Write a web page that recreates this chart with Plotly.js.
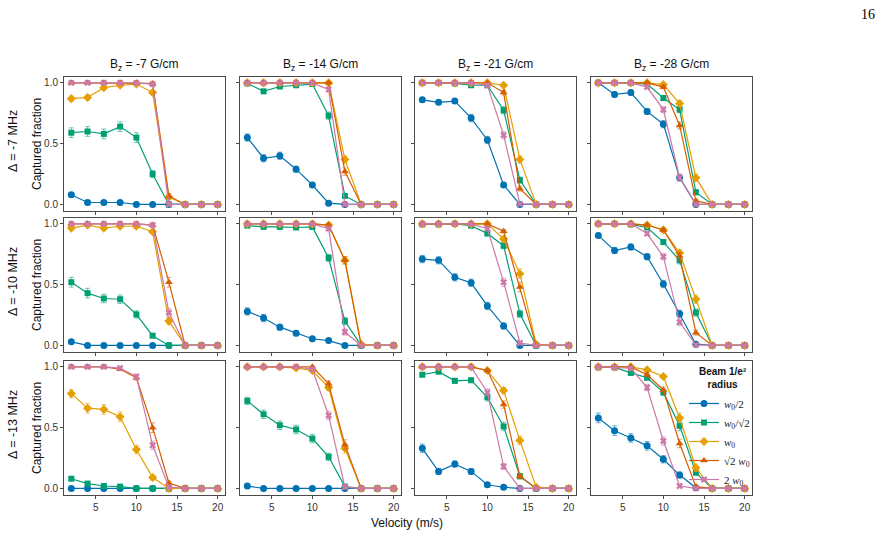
<!DOCTYPE html>
<html>
<head>
<meta charset="utf-8">
<script src="https://cdn.plot.ly/plotly-3.0.1.min.js"></script>
<style>html,body{margin:0;padding:0;background:#fff;}#chart{width:891px;height:536px;}</style>
</head>
<body>
<div id="chart"></div>
<script>
// ---- data ----
const velocity = [2, 4, 6, 8, 10, 12, 14, 16, 18, 20];
const xTickVals = [5, 10, 15, 20];
const xTickText = ['5', '10', '15', '20'];
const yTickVals = [0, 0.5, 1];
const yTickText = ['0.0', '0.5', '1.0'];
const bzLabels = ['B<sub>z</sub> = -7 G/cm', 'B<sub>z</sub> = -14 G/cm', 'B<sub>z</sub> = -21 G/cm', 'B<sub>z</sub> = -28 G/cm'];
const detuningLabels = ['Δ = -7 MHz', 'Δ = -10 MHz', 'Δ = -13 MHz'];
const legendTitle = '<b>Beam 1/e²</b><br><b>radius</b>';
const seriesNames = ['<i>w</i><sub>0</sub>/2', '<i>w</i><sub>0</sub>/√2', '<i>w</i><sub>0</sub>', '√2 <i>w</i><sub>0</sub>', '2 <i>w</i><sub>0</sub>'];
const seriesColors = ['#0072B2', '#009E73', '#E69F00', '#D55E00', '#CC79A7'];
const seriesErrColors = ['rgba(0,114,178,0.55)', 'rgba(0,158,115,0.55)', 'rgba(230,159,0,0.55)', 'rgba(213,94,0,0.55)', 'rgba(204,121,167,0.55)'];
const seriesSymbols = ['circle', 'square', 'diamond', 'triangle-up', 'x'];
const seriesSizes = [7, 6, 7, 7, 6];

// captured fraction per panel: rows = series (w0/2, w0/√2, w0, √2 w0, 2 w0)
const d7_b7 = [
  [0.08, 0.016, 0.016, 0.016, 0, 0, 0, 0, 0, 0],
  [0.59, 0.60, 0.58, 0.64, 0.55, 0.25, 0, 0, 0, 0],
  [0.87, 0.88, 0.96, 0.98, 0.99, 0.92, 0.06, 0, 0, 0],
  [1, 1, 1, 1, 1, 0.995, 0.07, 0, 0, 0],
  [1, 1, 1, 1, 1, 0.99, 0, 0, 0, 0]];
const d7_b14 = [
  [0.55, 0.38, 0.40, 0.29, 0.16, 0.01, 0, 0, 0, 0],
  [0.995, 0.93, 0.97, 0.98, 0.99, 0.73, 0.07, 0, 0, 0],
  [1, 1, 1, 1, 1, 1, 0.37, 0, 0, 0],
  [1, 1, 1, 1, 1, 1, 0.27, 0, 0, 0],
  [1, 1, 1, 1, 1, 0.945, 0, 0, 0, 0]];
const d7_b21 = [
  [0.86, 0.84, 0.85, 0.71, 0.53, 0.16, 0, 0, 0, 0],
  [1, 1, 0.995, 0.98, 0.98, 0.775, 0.20, 0, 0, 0],
  [1, 1, 1, 1, 1, 0.98, 0.37, 0, 0, 0],
  [1, 1, 1, 1, 1, 0.92, 0.13, 0, 0, 0],
  [1, 1, 1, 1, 0.98, 0.57, 0.005, 0, 0, 0]];
const d7_b28 = [
  [1, 0.905, 0.92, 0.765, 0.66, 0.22, 0, 0, 0, 0],
  [1, 1, 1, 0.99, 0.875, 0.78, 0.10, 0, 0, 0],
  [1, 1, 1, 1, 0.985, 0.83, 0.22, 0, 0, 0],
  [1, 1, 1, 1, 0.965, 0.65, 0.03, 0, 0, 0],
  [1, 1, 1, 0.965, 0.78, 0.22, 0, 0, 0, 0]];
const d10_b7 = [
  [0.03, 0, 0, 0, 0, 0, 0, 0, 0, 0],
  [0.52, 0.43, 0.386, 0.38, 0.255, 0.08, 0, 0, 0, 0],
  [0.965, 0.99, 0.965, 0.98, 0.98, 0.935, 0.20, 0, 0, 0],
  [1, 1, 1, 1, 1, 0.99, 0.52, 0, 0, 0],
  [1, 1, 1, 1, 1, 0.99, 0.27, 0, 0, 0]];
const d10_b14 = [
  [0.28, 0.225, 0.15, 0.10, 0.055, 0.04, 0, 0, 0, 0],
  [0.985, 0.975, 0.975, 0.97, 0.975, 0.72, 0.20, 0, 0, 0],
  [1, 1, 1, 1, 1, 0.99, 0.70, 0.01, 0, 0],
  [1, 1, 1, 1, 1, 0.99, 0.70, 0, 0, 0],
  [1, 1, 1, 1, 1, 0.96, 0.11, 0, 0, 0]];
const d10_b21 = [
  [0.71, 0.70, 0.56, 0.515, 0.325, 0.16, 0, 0, 0, 0],
  [0.995, 0.995, 1, 0.985, 0.92, 0.82, 0.26, 0, 0, 0],
  [1, 1, 1, 1, 1, 0.875, 0.59, 0.01, 0, 0],
  [1, 1, 1, 1, 1, 0.94, 0.48, 0, 0, 0],
  [1, 1, 1, 1, 0.96, 0.52, 0.02, 0, 0, 0]];
const d10_b28 = [
  [0.905, 0.78, 0.81, 0.73, 0.505, 0.26, 0.01, 0, 0, 0],
  [1, 1, 0.995, 0.97, 0.85, 0.70, 0.27, 0, 0, 0],
  [1, 1, 1, 0.99, 0.95, 0.76, 0.38, 0, 0, 0],
  [1, 1, 1, 0.99, 0.95, 0.735, 0.105, 0, 0, 0],
  [1, 1, 1, 0.92, 0.73, 0.19, 0.005, 0, 0, 0]];
const d13_b7 = [
  [0, 0, 0, 0, 0, 0, 0, 0, 0, 0],
  [0.08, 0.04, 0.02, 0.015, 0, 0, 0, 0, 0, 0],
  [0.78, 0.66, 0.65, 0.59, 0.32, 0.09, 0, 0, 0, 0],
  [1, 1, 1, 0.98, 0.91, 0.50, 0.045, 0, 0, 0],
  [1, 1, 1, 0.99, 0.92, 0.355, 0.01, 0, 0, 0]];
const d13_b14 = [
  [0.02, 0, 0, 0, 0, 0, 0, 0, 0, 0],
  [0.72, 0.61, 0.52, 0.485, 0.41, 0.26, 0.015, 0, 0, 0],
  [1, 1, 1, 0.99, 0.97, 0.83, 0.33, 0, 0, 0],
  [1, 1, 1, 1, 1, 0.86, 0.36, 0, 0, 0],
  [1, 1, 1, 1, 0.98, 0.60, 0.01, 0, 0, 0]];
const d13_b21 = [
  [0.33, 0.14, 0.20, 0.14, 0.03, 0.01, 0, 0, 0, 0],
  [0.935, 0.96, 0.885, 0.89, 0.75, 0.51, 0.10, 0, 0, 0],
  [1, 1, 1, 1, 0.97, 0.805, 0.395, 0.01, 0, 0],
  [1, 1, 1, 1, 0.97, 0.69, 0.10, 0, 0, 0],
  [1, 1, 1, 1, 0.79, 0.18, 0, 0, 0, 0]];
const d13_b28 = [
  [0.58, 0.475, 0.415, 0.35, 0.24, 0.11, 0.005, 0, 0, 0],
  [0.995, 0.995, 0.95, 0.91, 0.79, 0.515, 0.13, 0, 0, 0],
  [1, 1, 1, 0.975, 0.92, 0.58, 0.17, 0, 0, 0],
  [1, 1, 1, 0.935, 0.81, 0.37, 0.015, 0, 0, 0],
  [1, 0.995, 0.99, 0.83, 0.39, 0.02, 0, 0, 0, 0]];

// error bars per panel
const e7_b7 = [
  [0.015, 0.005, 0.005, 0.005, 0, 0, 0, 0, 0, 0],
  [0.04, 0.04, 0.04, 0.04, 0.04, 0.03, 0, 0, 0, 0],
  [0.02, 0.02, 0.01, 0.01, 0.01, 0.02, 0.02, 0, 0, 0],
  [0.005, 0.005, 0.005, 0.005, 0.005, 0.01, 0.02, 0, 0, 0],
  [0.005, 0.005, 0.005, 0.005, 0.005, 0.01, 0.005, 0, 0, 0]];
const e7_b14 = [
  [0.03, 0.03, 0.03, 0.025, 0.02, 0.005, 0, 0, 0, 0],
  [0.005, 0.015, 0.01, 0.01, 0.005, 0.03, 0.015, 0, 0, 0],
  [0.005, 0.005, 0.005, 0.005, 0.005, 0.005, 0.03, 0, 0, 0],
  [0.005, 0.005, 0.005, 0.005, 0.005, 0.005, 0.03, 0, 0, 0],
  [0.005, 0.005, 0.005, 0.005, 0.005, 0.015, 0.005, 0, 0, 0]];
const e7_b21 = [
  [0.02, 0.02, 0.02, 0.03, 0.03, 0.02, 0, 0, 0, 0],
  [0.005, 0.005, 0.005, 0.01, 0.01, 0.03, 0.025, 0, 0, 0],
  [0.005, 0.005, 0.005, 0.005, 0.005, 0.01, 0.03, 0, 0, 0],
  [0.005, 0.005, 0.005, 0.005, 0.005, 0.02, 0.02, 0, 0, 0],
  [0.005, 0.005, 0.005, 0.005, 0.01, 0.03, 0.005, 0, 0, 0]];
const e7_b28 = [
  [0.01, 0.02, 0.02, 0.025, 0.03, 0.025, 0.005, 0, 0, 0],
  [0.005, 0.005, 0.005, 0.01, 0.02, 0.025, 0.02, 0, 0, 0],
  [0.005, 0.005, 0.005, 0.005, 0.01, 0.025, 0.03, 0, 0, 0],
  [0.005, 0.005, 0.005, 0.005, 0.015, 0.03, 0.01, 0, 0, 0],
  [0.005, 0.005, 0.005, 0.015, 0.025, 0.03, 0.005, 0, 0, 0]];
const e10_b7 = [
  [0.01, 0, 0, 0, 0, 0, 0, 0, 0, 0],
  [0.04, 0.04, 0.035, 0.035, 0.03, 0.015, 0, 0, 0, 0],
  [0.01, 0.005, 0.01, 0.01, 0.01, 0.015, 0.03, 0, 0, 0],
  [0.005, 0.005, 0.005, 0.005, 0.005, 0.01, 0.04, 0, 0, 0],
  [0.005, 0.005, 0.005, 0.005, 0.005, 0.01, 0.035, 0, 0, 0]];
const e10_b14 = [
  [0.03, 0.03, 0.025, 0.02, 0.015, 0.01, 0, 0, 0, 0],
  [0.01, 0.01, 0.01, 0.01, 0.01, 0.03, 0.03, 0, 0, 0],
  [0.005, 0.005, 0.005, 0.005, 0.005, 0.01, 0.03, 0.01, 0, 0],
  [0.005, 0.005, 0.005, 0.005, 0.005, 0.01, 0.03, 0, 0, 0],
  [0.005, 0.005, 0.005, 0.005, 0.005, 0.015, 0.025, 0, 0, 0]];
const e10_b21 = [
  [0.03, 0.03, 0.03, 0.03, 0.03, 0.025, 0, 0, 0, 0],
  [0.005, 0.005, 0.005, 0.01, 0.015, 0.025, 0.03, 0, 0, 0],
  [0.005, 0.005, 0.005, 0.005, 0.005, 0.025, 0.04, 0.01, 0, 0],
  [0.005, 0.005, 0.005, 0.005, 0.005, 0.015, 0.04, 0, 0, 0],
  [0.005, 0.005, 0.005, 0.005, 0.015, 0.035, 0.01, 0, 0, 0]];
const e10_b28 = [
  [0.015, 0.025, 0.025, 0.025, 0.03, 0.03, 0.01, 0, 0, 0],
  [0.005, 0.005, 0.005, 0.01, 0.02, 0.03, 0.03, 0, 0, 0],
  [0.005, 0.005, 0.005, 0.01, 0.015, 0.03, 0.035, 0, 0, 0],
  [0.005, 0.005, 0.005, 0.01, 0.015, 0.03, 0.02, 0, 0, 0],
  [0.005, 0.005, 0.005, 0.015, 0.025, 0.025, 0.01, 0, 0, 0]];
const e13_b7 = [
  [0, 0, 0, 0, 0, 0, 0, 0, 0, 0],
  [0.015, 0.01, 0.01, 0.01, 0, 0, 0, 0, 0, 0],
  [0.035, 0.04, 0.04, 0.04, 0.035, 0.02, 0, 0, 0, 0],
  [0.005, 0.005, 0.005, 0.01, 0.02, 0.04, 0.015, 0, 0, 0],
  [0.005, 0.005, 0.005, 0.01, 0.02, 0.035, 0.01, 0, 0, 0]];
const e13_b14 = [
  [0.01, 0, 0, 0, 0, 0, 0, 0, 0, 0],
  [0.03, 0.035, 0.035, 0.035, 0.035, 0.03, 0.01, 0, 0, 0],
  [0.005, 0.005, 0.005, 0.01, 0.01, 0.025, 0.04, 0, 0, 0],
  [0.005, 0.005, 0.005, 0.005, 0.005, 0.025, 0.04, 0, 0, 0],
  [0.005, 0.005, 0.005, 0.005, 0.01, 0.035, 0.01, 0, 0, 0]];
const e13_b21 = [
  [0.035, 0.025, 0.025, 0.025, 0.01, 0.005, 0, 0, 0, 0],
  [0.015, 0.01, 0.02, 0.02, 0.03, 0.035, 0.02, 0, 0, 0],
  [0.005, 0.005, 0.005, 0.005, 0.01, 0.025, 0.035, 0.01, 0, 0],
  [0.005, 0.005, 0.005, 0.005, 0.01, 0.03, 0.02, 0, 0, 0],
  [0.005, 0.005, 0.005, 0.005, 0.03, 0.025, 0.005, 0, 0, 0]];
const e13_b28 = [
  [0.04, 0.04, 0.035, 0.035, 0.03, 0.025, 0.005, 0, 0, 0],
  [0.005, 0.005, 0.01, 0.015, 0.025, 0.04, 0.02, 0, 0, 0],
  [0.005, 0.005, 0.005, 0.01, 0.015, 0.04, 0.03, 0, 0, 0],
  [0.005, 0.005, 0.005, 0.015, 0.025, 0.035, 0.01, 0, 0, 0],
  [0.005, 0.005, 0.005, 0.025, 0.035, 0.01, 0, 0, 0, 0]];

const panelValues = [
  [d7_b7, d7_b14, d7_b21, d7_b28],
  [d10_b7, d10_b14, d10_b21, d10_b28],
  [d13_b7, d13_b14, d13_b21, d13_b28]];
const panelErrors = [
  [e7_b7, e7_b14, e7_b21, e7_b28],
  [e10_b7, e10_b14, e10_b21, e10_b28],
  [e13_b7, e13_b14, e13_b21, e13_b28]];

// ---- layout geometry (pixels) ----
const W = 891, H = 536;
const colLeft = [64, 240, 415, 591];
const colWidth = 161;
const rowTop = [77, 218, 361];
const rowHeight = 134;
const px = v => v / W;
const py = v => 1 - v / H;

const frameColor = '#4a4a4a';
const textColor = '#333333';
const sans = 'Liberation Sans, Arial, sans-serif';

const traces = [];
const layout = {
  width: W, height: H, autosize: false,
  margin: {l: 0, r: 0, t: 0, b: 0},
  paper_bgcolor: '#ffffff', plot_bgcolor: '#ffffff',
  font: {family: sans, color: textColor, size: 10},
  showlegend: true,
  legend: {
    x: px(684), y: py(389), xanchor: 'left', yanchor: 'top',
    bgcolor: 'rgba(0,0,0,0)', borderwidth: 0,
    font: {family: 'Liberation Serif, DejaVu Serif, serif', size: 11, color: '#222'},
    itemwidth: 30, tracegroupgap: 0
  },
  annotations: [],
  hovermode: false
};

for (let r = 0; r < 3; r++) {
  for (let c = 0; c < 4; c++) {
    const n = r * 4 + c + 1;
    const xa = 'xaxis' + (n === 1 ? '' : n);
    const ya = 'yaxis' + (n === 1 ? '' : n);
    const xr = 'x' + (n === 1 ? '' : n);
    const yr = 'y' + (n === 1 ? '' : n);
    layout[xa] = {
      domain: [px(colLeft[c]), px(colLeft[c] + colWidth)],
      anchor: yr, range: [1.1, 20.9],
      tickvals: xTickVals, ticktext: xTickText,
      showticklabels: r === 2,
      ticks: 'outside', ticklen: 3, tickwidth: 1, tickcolor: frameColor,
      showline: true, mirror: true, linecolor: frameColor, linewidth: 1,
      showgrid: false, zeroline: false,
      tickfont: {family: sans, size: 10, color: textColor}
    };
    layout[ya] = {
      domain: [py(rowTop[r] + rowHeight), py(rowTop[r])],
      anchor: xr, range: [-0.054, 1.048],
      tickvals: yTickVals, ticktext: yTickText,
      showticklabels: c === 0,
      ticks: 'outside', ticklen: 3, tickwidth: 1, tickcolor: frameColor,
      showline: true, mirror: true, linecolor: frameColor, linewidth: 1,
      showgrid: false, zeroline: false,
      tickfont: {family: sans, size: 10, color: textColor}
    };
    const vals = panelValues[r][c];
    const errs = panelErrors[r][c];
    for (let s = 0; s < 5; s++) {
      traces.push({
        type: 'scatter', mode: 'lines+markers',
        x: velocity, y: vals[s],
        xaxis: xr, yaxis: yr,
        name: seriesNames[s], legendgroup: 'g' + s,
        showlegend: (r === 0 && c === 0),
        line: {color: seriesColors[s], width: 1.2},
        marker: {color: seriesColors[s], symbol: seriesSymbols[s], size: seriesSizes[s],
                 line: {width: 0}},
        error_y: {type: 'data', array: errs[s], visible: true,
                  color: seriesErrColors[s], thickness: 1, width: 2.5},
        cliponaxis: false
      });
    }
  }
}

// column titles
for (let c = 0; c < 4; c++) {
  layout.annotations.push({
    text: bzLabels[c], xref: 'paper', yref: 'paper',
    x: px(colLeft[c] + colWidth / 2), y: py(65),
    xanchor: 'center', yanchor: 'middle', showarrow: false,
    font: {family: sans, size: 12, color: '#111'}
  });
}
// row titles
for (let r = 0; r < 3; r++) {
  const cy = rowTop[r] + rowHeight / 2;
  layout.annotations.push({
    text: detuningLabels[r], xref: 'paper', yref: 'paper',
    x: px(13), y: py(cy - 3), xanchor: 'center', yanchor: 'middle',
    textangle: -90, showarrow: false,
    font: {family: sans, size: 12.5, color: '#111'}
  });
  layout.annotations.push({
    text: 'Captured fraction', xref: 'paper', yref: 'paper',
    x: px(37), y: py(cy), xanchor: 'center', yanchor: 'middle',
    textangle: -90, showarrow: false,
    font: {family: sans, size: 12, color: '#111'}
  });
}
// legend title
layout.annotations.push({
  text: legendTitle, xref: 'paper', yref: 'paper',
  x: px(723), y: py(378), xanchor: 'center', yanchor: 'middle', showarrow: false,
  align: 'center',
  font: {family: sans, size: 10, color: '#111'}
});
// x title
layout.annotations.push({
  text: 'Velocity (m/s)', xref: 'paper', yref: 'paper',
  x: px(407), y: py(523), xanchor: 'center', yanchor: 'middle', showarrow: false,
  font: {family: sans, size: 12, color: '#111'}
});
// page number
layout.annotations.push({
  text: '16', xref: 'paper', yref: 'paper',
  x: px(868), y: py(14), xanchor: 'center', yanchor: 'middle', showarrow: false,
  font: {family: 'Liberation Serif, DejaVu Serif, serif', size: 14, color: '#000'}
});

Plotly.newPlot('chart', traces, layout, {staticPlot: true, displayModeBar: false});
</script>
</body>
</html>
